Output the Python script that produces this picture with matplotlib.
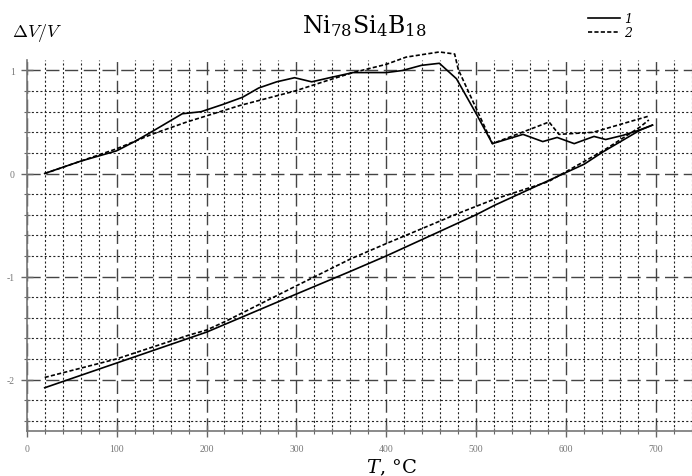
import numpy as np
import matplotlib
matplotlib.use('Agg')
import matplotlib.pyplot as plt
from matplotlib.ticker import MultipleLocator

plt.rcParams['lines.scale_dashes'] = False

## Datos (calentamiento y enfriamiento)
T_cal1 = [20, 60, 100, 120, 140, 173, 194, 218, 240, 258, 278, 298, 317, 337, 363,
          400, 418, 439, 459, 478, 500, 518, 552, 574, 590, 609, 631, 644, 663, 681, 696]
V_cal1 = [0.0, 0.12, 0.22, 0.31, 0.41, 0.58, 0.60, 0.67, 0.74, 0.83, 0.89, 0.93, 0.89, 0.93, 0.98,
          0.98, 1.00, 1.05, 1.07, 0.92, 0.58, 0.29, 0.38, 0.31, 0.35, 0.29, 0.36, 0.33, 0.37, 0.42, 0.47]

T_cal2 = [20, 100, 139, 178, 237, 298, 337, 363, 400, 422, 459, 476, 480, 518, 581, 592, 630, 693]
V_cal2 = [0.0, 0.24, 0.38, 0.50, 0.66, 0.80, 0.91, 0.98, 1.06, 1.13, 1.18, 1.16, 1.01, 0.29, 0.50, 0.38, 0.40, 0.56]

T_enf1 = [20, 100, 180, 200, 300, 360, 400, 480, 500, 520, 550, 580, 600, 620, 641, 682, 696]
V_enf1 = [-2.08, -1.84, -1.60, -1.54, -1.17, -0.95, -0.80, -0.48, -0.40, -0.31, -0.19, -0.07, 0.01, 0.09, 0.21, 0.42, 0.47]

T_enf2 = [20, 100, 180, 200, 220, 300, 360, 400, 482, 520, 580, 641, 682, 692]
V_enf2 = [-1.98, -1.80, -1.57, -1.52, -1.44, -1.09, -0.83, -0.68, -0.38, -0.25, -0.08, 0.22, 0.45, 0.52]

fig = plt.figure(figsize=(6.92, 4.77), dpi=100)
ax = fig.add_axes([0.0386, 0.0943, 0.9614, 0.7774])

guion = (0, (3.0, 1.6))
ax.plot(T_cal1, V_cal1, color='black', linewidth=1.2, label='1', clip_on=False)
ax.plot(T_cal2, V_cal2, color='black', linewidth=1.2, linestyle=guion, label='2', clip_on=False)
ax.plot(T_enf1, V_enf1, color='black', linewidth=1.2, clip_on=False)
ax.plot(T_enf2, V_enf2, color='black', linewidth=1.2, linestyle=guion, clip_on=False)

ax.set_xlim(0, 740)
ax.set_ylim(-2.5, 1.1)

ax.xaxis.set_major_locator(MultipleLocator(100))
ax.xaxis.set_minor_locator(MultipleLocator(20))
ax.yaxis.set_major_locator(MultipleLocator(1))
ax.yaxis.set_minor_locator(MultipleLocator(0.2))

# Rejilla: principal a trazos largos, secundaria punteada
ax.grid(which='major', color='#444444', linewidth=1.0, linestyle=(0, (9.5, 4.0)))
ax.grid(which='minor', color='#222222', linewidth=0.8, linestyle=(0, (1.5, 1.6)))
ax.set_axisbelow(True)

for lado in ['top', 'right']:
    ax.spines[lado].set_visible(False)
for lado in ['left', 'bottom']:
    ax.spines[lado].set_color('#777777')
    ax.spines[lado].set_linewidth(1.2)

ax.tick_params(which='major', direction='inout', length=9, width=1.0, color='#666666',
               labelsize=7, labelcolor='#777777', pad=4)
ax.tick_params(which='minor', direction='inout', length=4, width=0.8, color='#666666')
ax.tick_params(axis='x', which='major', pad=5)

ax.set_xticks([0, 100, 200, 300, 400, 500, 600, 700])
ax.set_yticks([-2, -1, 0, 1])
ax.set_yticklabels(['-2', '-1', '0', '1'], fontfamily='Liberation Serif')
ax.set_xticklabels(['0', '100', '200', '300', '400', '500', '600', '700'], fontfamily='Liberation Serif')

ax.set_xlabel(r'$T$, °C', fontsize=14, fontfamily='DejaVu Serif', math_fontfamily='dejavuserif')
ax.xaxis.set_label_coords(0.549, -0.068)

fig.text(0.017, 0.93, r'$\Delta V/V$', fontsize=13, math_fontfamily='cm', ha='left', va='center')
fig.text(0.527, 0.945, r'$\mathrm{Ni}_{78}\mathrm{Si}_{4}\mathrm{B}_{18}$', fontsize=17,
         math_fontfamily='dejavuserif', ha='center', va='center')

leg = fig.legend(loc='upper left', bbox_to_anchor=(0.84, 0.985), frameon=False,
                 handlelength=2.6, handletextpad=0.3, labelspacing=0.05, borderpad=0,
                 prop={'family': 'DejaVu Serif', 'style': 'italic', 'size': 9})

fig.savefig('out.png', dpi=100)
